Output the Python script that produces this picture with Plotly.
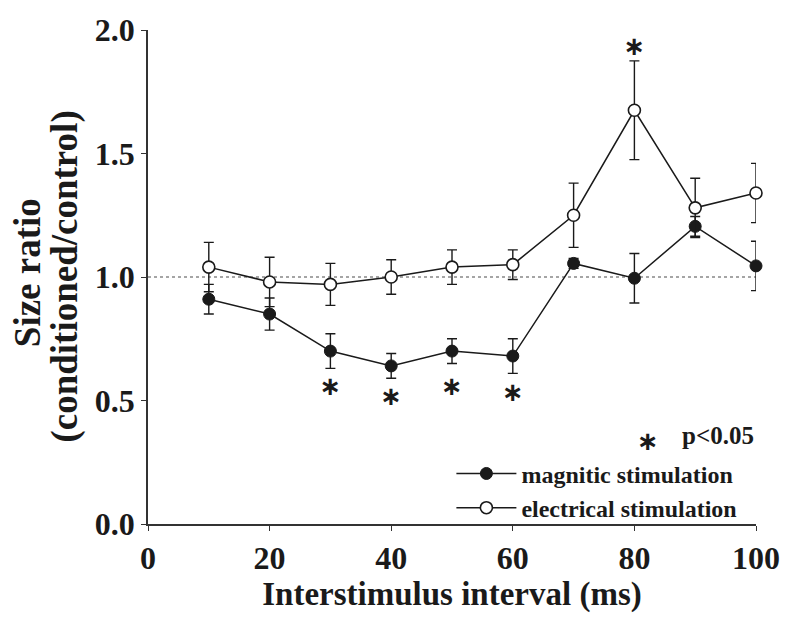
import plotly.graph_objects as go

# ---- data ----
isi_ms = [10, 20, 30, 40, 50, 60, 70, 80, 90, 100]
magnetic_ratio = [0.91, 0.85, 0.70, 0.64, 0.70, 0.68, 1.055, 0.995, 1.205, 1.045]
magnetic_err = [0.06, 0.065, 0.07, 0.05, 0.05, 0.07, 0.02, 0.10, 0.04, 0.10]
electrical_ratio = [1.04, 0.98, 0.97, 1.00, 1.04, 1.05, 1.25, 1.675, 1.28, 1.34]
electrical_err = [0.10, 0.10, 0.085, 0.07, 0.07, 0.06, 0.13, 0.20, 0.12, 0.12]
sig_x = [30, 40, 50, 60, 80]
sig_y = [0.55, 0.51, 0.55, 0.525, 1.925]
ref_level = 1.0
y_ticks = [0.0, 0.5, 1.0, 1.5, 2.0]
x_ticks = [0, 20, 40, 60, 80, 100]

SERIF = "Liberation Serif"
INK = "#1a1a1a"

fig = go.Figure()

fig.add_hline(y=ref_level, line=dict(color="#888888", width=1.3, dash="dot"), layer="below")

fig.add_trace(go.Scatter(
    x=isi_ms, y=magnetic_ratio, mode="lines+markers", name="magnitic stimulation",
    line=dict(color=INK, width=1.5),
    marker=dict(symbol="circle", size=12, color=INK, line=dict(color=INK, width=1)),
    error_y=dict(type="data", array=magnetic_err, visible=True, color=INK, thickness=1.4, width=5),
    cliponaxis=False,
))
fig.add_trace(go.Scatter(
    x=isi_ms, y=electrical_ratio, mode="lines+markers", name="electrical stimulation",
    line=dict(color=INK, width=1.5),
    marker=dict(symbol="circle", size=12, color="white", line=dict(color=INK, width=1.6)),
    error_y=dict(type="data", array=electrical_err, visible=True, color=INK, thickness=1.4, width=5),
    cliponaxis=False,
))
fig.add_trace(go.Scatter(
    x=sig_x, y=sig_y, mode="text", text=["\u2217"] * len(sig_x),
    textposition="middle center", showlegend=False, hoverinfo="skip",
    textfont=dict(family="DejaVu Sans", size=26, color=INK, weight="bold"),
    cliponaxis=False,
))

fig.add_annotation(x=0.822, y=0.168, xref="paper", yref="paper", text="\u2217",
                   showarrow=False, xanchor="center", yanchor="middle",
                   font=dict(family="DejaVu Sans", size=26, color=INK, weight="bold"))
fig.add_annotation(x=0.937, y=0.180, xref="paper", yref="paper", text="p<0.05",
                   showarrow=False, xanchor="center", yanchor="middle",
                   font=dict(family=SERIF, size=25, color=INK, weight="bold"))

fig.add_annotation(x=-0.198, y=0.509, xref="paper", yref="paper", text="Size ratio",
                   textangle=-90, showarrow=False, xanchor="center", yanchor="middle",
                   font=dict(family=SERIF, size=37, color=INK, weight="bold"))
fig.add_annotation(x=-0.138, y=0.501, xref="paper", yref="paper", text="(conditioned/control)",
                   textangle=-90, showarrow=False, xanchor="center", yanchor="middle",
                   font=dict(family=SERIF, size=37, color=INK, weight="bold"))

fig.update_layout(
    width=792, height=617,
    margin=dict(l=148, r=29, t=30, b=86),
    paper_bgcolor="white", plot_bgcolor="white",
    font=dict(family=SERIF, color=INK, weight="bold"),
    legend=dict(x=0.499, y=0.147, xanchor="left", yanchor="top",
                bgcolor="rgba(0,0,0,0)", itemwidth=60,
                font=dict(family=SERIF, size=24, color=INK, weight="bold")),
    xaxis=dict(range=[0, 100], tickvals=x_ticks, showgrid=False, zeroline=False,
               showline=True, linecolor="#333333", linewidth=1.5,
               ticks="outside", ticklen=5, tickcolor="#333333",
               tickfont=dict(family=SERIF, size=32, color=INK, weight="bold"),
               title=dict(text="Interstimulus interval (ms)", standoff=6,
                          font=dict(family=SERIF, size=33, color=INK, weight="bold"))),
    yaxis=dict(range=[0, 2], tickvals=y_ticks, tickformat=".1f", showgrid=False, zeroline=False,
               showline=True, linecolor="#333333", linewidth=1.5,
               ticks="outside", ticklen=5, tickcolor="#333333",
               tickfont=dict(family=SERIF, size=32, color=INK, weight="bold")),
)

fig.write_html("out.html")
